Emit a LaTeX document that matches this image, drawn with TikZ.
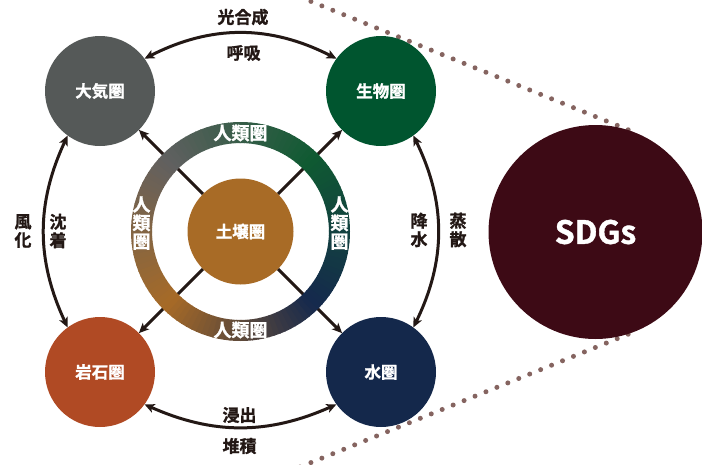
\documentclass[tikz,border=0pt]{standalone}
\usepackage{fontspec}
\newfontfamily\jp{Noto Sans CJK JP Bold}[FakeBold=1.3]
\usetikzlibrary{arrows.meta}
\definecolor{cAtm}{HTML}{555958}
\definecolor{cBio}{HTML}{00552F}
\definecolor{cHyd}{HTML}{14284B}
\definecolor{cLit}{HTML}{B04A24}
\definecolor{cSoil}{HTML}{A86B26}
\definecolor{cSdg}{HTML}{3D0A15}
\definecolor{cDot}{HTML}{856460}
\definecolor{cArr}{HTML}{231815}
\definecolor{rgGray}{HTML}{606060}
\definecolor{rgGreen}{HTML}{0F5A32}
\definecolor{rgNavy}{HTML}{15294D}
\definecolor{rgBrown}{HTML}{A76A27}
\begin{document}
\begin{tikzpicture}[x=1pt,y=-1pt,
  sphere/.style={circle, minimum size=110pt, inner sep=0pt, outer sep=0pt, text=white,
    font=\jp\fontsize{16.5}{18}\selectfont},
  tipA/.tip={Stealth[length=10pt,width=9pt,inset=2.5pt]},
  flow/.style={draw=cArr, line width=3pt, tipA-tipA},
  ray/.style={draw=cArr, line width=3pt, -tipA},
  lbl/.style={text=cArr, inner sep=0pt, align=center,
    font=\jp\fontsize{17}{18.5}\selectfont},
  ringtxt/.style={text=white, inner sep=0pt, align=center,
    font=\jp\fontsize{18}{18.5}\selectfont},
  dots/.style={draw=cDot, line width=5pt, line cap=round, dash pattern=on 0pt off 11.8pt}
]
\useasboundingbox (0,0) rectangle (702,464);
\clip (0,0) rectangle (702,464);

% SDGs and dotted tangents
\node[circle, minimum size=214pt, inner sep=0pt, outer sep=0pt] (sdg) at (595.5,232) {};
\coordinate (dA) at (300,-3);
\coordinate (dB) at (300,467);
\draw[dots] (dA) -- (sdg.68);
\draw[dots] (dB) -- (sdg.-68);
\node[circle, fill=cSdg, minimum size=214pt, inner sep=0pt, text=white,
  font=\jp\fontsize{32}{36}\selectfont] at (sdg) {SDGs};

% spheres
\node[sphere, fill=cAtm] (atm) at (100,91) {大気圏};
\node[sphere, fill=cBio] (bio) at (381,91) {生物圏};
\node[sphere, fill=cLit] (lit) at (100,372) {岩石圏};
\node[sphere, fill=cHyd] (hyd) at (381,372) {水圏};

% soil centre (placeholder for naming)
\node[circle, minimum size=106pt, inner sep=0pt, outer sep=0pt] (soil) at (240.5,231.5) {};

% rays
\draw[ray] (soil) -- (atm);
\draw[ray] (soil) -- (bio);
\draw[ray] (soil) -- (lit);
\draw[ray] (soil) -- (hyd);

% ring with angular gradient
\begin{scope}[shift={(240.5,231.5)}]
\foreach \a in {0,3,...,357}{
  \pgfmathsetmacro{\m}{mod(\a+1.5-45+360,360)}
  \pgfmathtruncatemacro{\q}{floor(\m/90)}
  \pgfmathtruncatemacro{\t}{100*(\m-90*\q)/90}
  \ifcase\q \def\cA{rgGray}\def\cB{rgGreen}\or \def\cA{rgBrown}\def\cB{rgGray}\or
    \def\cA{rgNavy}\def\cB{rgBrown}\or \def\cA{rgGreen}\def\cB{rgNavy}\fi
  \pgfmathsetmacro{\e}{\a+3.6}
  \fill[\cA!\t!\cB] (\a:109.5pt) arc[start angle=\a, end angle=\e, radius=109.5pt]
    -- (\e:88.5pt) arc[start angle=\e, end angle=\a, radius=88.5pt] -- cycle;
}
\end{scope}
\node[ringtxt] (rT) at (240.5,133) {人類圏};
\node[ringtxt] (rB) at (240.5,330) {人類圏};
\node[ringtxt] (rL) at (141.5,223) {人\\類\\圏};
\node[ringtxt] (rR) at (339.5,223) {人\\類\\圏};

\node[circle, fill=cSoil, minimum size=106pt, inner sep=0pt, text=white,
  font=\jp\fontsize{16.5}{18}\selectfont] at (soil) {土壌圏};

% cycle arrows
\draw[flow] (atm.36) to[bend left=27] (bio.144);
\draw[flow] (lit.-36) to[bend right=24] (hyd.-144);
\draw[flow] (atm.234) to[bend right=25] (lit.126);
\draw[flow] (bio.-54) to[bend left=26] (hyd.54);

% labels
\node[lbl] (l1) at (243,17) {光合成};
\node[lbl] (l2) at (243.5,53) {呼吸};
\node[lbl] (l3) at (239.5,415) {浸出};
\node[lbl] (l4) at (239.5,446) {堆積};
\node[lbl] (l5) at (23,231) {風\\化};
\node[lbl] (l6) at (58,231) {沈\\着};
\node[lbl] (l7) at (419,230) {降\\水};
\node[lbl] (l8) at (458,230) {蒸\\散};
\end{tikzpicture}
\end{document}
